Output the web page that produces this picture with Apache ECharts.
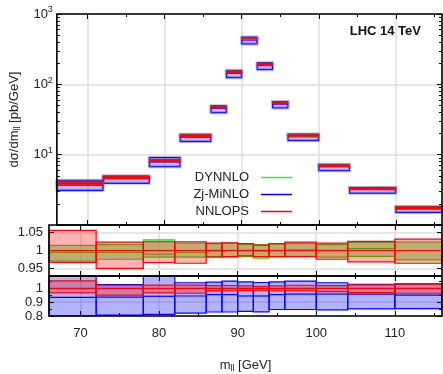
<!DOCTYPE html>
<html>
<head>
<meta charset="utf-8">
<script src="https://cdn.jsdelivr.net/npm/echarts@6/dist/echarts.min.js"></script>
<style>
  html,body{margin:0;padding:0;background:#fff}
  #c{width:443px;height:374px}
</style>
</head>
<body>
<div id="c"></div>
<script>
// ---------- 数据 ----------
// m_ll bins (GeV)
const binLo = [66, 72, 78, 82, 86, 88, 90, 92, 94, 96, 100, 104, 110];
const binHi = [72, 78, 82, 86, 88, 90, 92, 94, 96, 100, 104, 110, 116];
// NNLOPS central value, pb/GeV
const nnlops = [3.93, 4.85, 8.3, 18.7, 47.6, 150, 450, 195, 54.5, 18.7, 7.0, 3.32, 1.77];
// NNLOPS band / NNLOPS central
const redLo = [0.967, 0.951, 0.967, 0.965, 0.982, 0.983, 0.985, 0.983, 0.983, 0.983, 0.976, 0.969, 0.965];
const redHi = [1.055, 1.023, 1.024, 1.024, 1.020, 1.021, 1.019, 1.015, 1.019, 1.023, 1.020, 1.025, 1.031];
// DYNNLO / NNLOPS central
const grnLo = [0.971, 0.976, 0.982, 0.982, 0.983, 0.982, 0.983, 0.979, 0.983, 0.984, 0.982, 0.984, 0.974];
const grnHi = [1.014, 1.016, 1.029, 1.020, 1.019, 1.020, 1.017, 1.016, 1.018, 1.019, 1.016, 1.022, 1.023];
const grnC  = [0.995, 0.995, 0.990, 0.995, 1.000, 1.000, 1.000, 0.998, 1.000, 1.002, 1.000, 1.005, 1.000];
// Zj-MiNLO / NNLOPS central
const bluLo = [0.790, 0.806, 0.812, 0.821, 0.829, 0.829, 0.833, 0.830, 0.847, 0.847, 0.845, 0.851, 0.853];
const bluHi = [1.100, 1.027, 1.100, 1.041, 1.045, 1.053, 1.047, 1.043, 1.047, 1.053, 1.041, 1.029, 1.033];
const bluC  = [0.935, 0.937, 0.943, 0.945, 0.955, 0.955, 0.945, 0.945, 0.955, 0.959, 0.959, 0.959, 0.951];

const xMajor = [70, 80, 90, 100, 110];
const xMinor = [75, 85, 95, 105, 115];
const logMinor = [2,3,4,5,6,7,8,9,20,30,40,50,60,70,80,90,200,300,400,500,600,700,800,900];
const midTicks = [0.95, 1, 1.05];
const lowTicks = [0.8, 0.9, 1];
const lowMinor = [0.85, 0.95, 1.05];

// ---------- 帮助函数 ----------
const FONT = 'Liberation Sans';
const RED = '#ff0000', BLUE = '#0000ff', GREEN = '#33cc11';

function rows(scale, lo, hi, c){
  return binLo.map((x, i) => [x, binHi[i], scale[i]*lo[i], scale[i]*hi[i], scale[i]*c[i]]);
}
const one = binLo.map(() => 1);

function boxRender(fill, stroke, lw, glow){
  return function(params, api){
    const cs = params.coordSys;
    const a = api.coord([api.value(0), api.value(3)]);
    const b = api.coord([api.value(1), api.value(2)]);
    const c = api.coord([api.value(0), api.value(4)]);
    const clip = {x: cs.x, y: cs.y, width: cs.width, height: cs.height};
    const r = echarts.graphic.clipRectByRect({x: a[0], y: a[1], width: b[0]-a[0], height: b[1]-a[1]}, clip);
    const kids = [];
    if (r && glow) kids.push({type:'rect', shape: r, style:{fill:'none', stroke: glow, lineWidth: 3}});
    if (r) kids.push({type:'rect', shape: r, style:{fill: fill, stroke: stroke, lineWidth: lw}});
    if (c[1] >= cs.y && c[1] <= cs.y + cs.height)
      kids.push({type:'line', shape:{x1: a[0], y1: c[1], x2: b[0], y2: c[1]}, style:{stroke: stroke, lineWidth: lw}});
    return {type:'group', children: kids};
  };
}
function band(name, g, data, fill, stroke, lw, glow){
  return {type:'custom', name: name, xAxisIndex: g*4, yAxisIndex: g*4, data: data,
    encode:{x:[0,1], y:[2,3,4]}, renderItem: boxRender(fill, stroke, lw, glow), silent: true};
}

// ---------- 坐标轴 ----------
const grids = [
  {left: 49, right: 1, top: 14,  height: 211},
  {left: 49, right: 1, top: 225, height: 51},
  {left: 49, right: 1, top: 276, height: 50}
].map(g => Object.assign(g, {show: true, borderColor: '#000', borderWidth: 1.6, backgroundColor: 'transparent', z: 10}));

const gridLine = {show: true, lineStyle: {color: '#dedede', width: 1.5}};
const tickStyle = {color: '#000', width: 1};

const xAxes = [];
for (let g = 0; g < 3; g++){
  const base = {type:'value', gridIndex: g, min: 66, max: 116, axisLine:{show:false}, axisLabel:{show:false}, splitLine:{show:false}};
  const main = Object.assign({}, base, {position:'bottom',
    axisTick:{show:true, inside:true, length:5, customValues: xMajor, lineStyle: tickStyle},
    splitLine: gridLine});
  if (g === 2){
    main.axisLabel = {show:true, customValues: xMajor, fontFamily: FONT, fontSize: 13, color:'#222', margin: 11};
    main.name = '{a|m}{s|ll}{a| [GeV]}';
    main.nameLocation = 'middle';
    main.nameGap = 41;
    main.nameTextStyle = {fontFamily: FONT, rich:{a:{fontFamily: FONT, fontSize:13, color:'#222'}, s:{fontFamily: FONT, fontSize:9, color:'#222', padding:[7,0,0,0]}}};
  }
  xAxes.push(main);
  xAxes.push(Object.assign({}, base, {position:'bottom', axisTick:{show:true, inside:true, length:3, customValues: xMinor, lineStyle: tickStyle}}));
  xAxes.push(Object.assign({}, base, {position:'top', axisTick:{show:true, inside:true, length:5, customValues: xMajor, lineStyle: tickStyle}}));
  xAxes.push(Object.assign({}, base, {position:'top', axisTick:{show:true, inside:true, length:3, customValues: xMinor, lineStyle: tickStyle}}));
}

const labelStyle = {fontFamily: FONT, fontSize: 13, color:'#222', margin: 6};
const yAxes = [];
// top: log
{
  const base = {type:'log', logBase:10, gridIndex:0, min:1, max:1000, axisLine:{show:false}, axisLabel:{show:false}, splitLine:{show:false}};
  yAxes.push(Object.assign({}, base, {position:'left',
    axisTick:{show:true, inside:true, length:5, lineStyle: tickStyle},
    splitLine: gridLine,
    axisLabel:{show:true, fontFamily: FONT, fontSize:13, color:'#222', margin:4,
      formatter: v => v < 5 ? '' : '{b|10}{s|' + Math.round(Math.log10(v)) + '}',
      rich:{b:{fontFamily: FONT, fontSize:13, color:'#222'}, s:{fontFamily: FONT, fontSize:9, color:'#222', padding:[0,0,8,0]}}},
    name:'{a|dσ/dm}{s|ll}{a| [pb/GeV]}', nameLocation:'middle', nameGap: 31,
    nameTextStyle:{fontFamily: FONT, rich:{a:{fontFamily: FONT, fontSize:13, color:'#222'}, s:{fontFamily: FONT, fontSize:9, color:'#222', padding:[7,0,0,0]}}}
  }));
  yAxes.push(Object.assign({}, base, {position:'left', axisTick:{show:true, inside:true, length:3, customValues: logMinor, lineStyle: tickStyle}}));
  yAxes.push(Object.assign({}, base, {position:'right', axisTick:{show:true, inside:true, length:5, lineStyle: tickStyle}}));
  yAxes.push(Object.assign({}, base, {position:'right', axisTick:{show:true, inside:true, length:3, customValues: logMinor, lineStyle: tickStyle}}));
}
// middle + bottom: ratio
[[1, 0.93, 1.07, midTicks, []], [2, 0.8, 1.09, lowTicks, lowMinor]].forEach(([g, mn, mx, maj, mnr]) => {
  const base = {type:'value', gridIndex:g, min:mn, max:mx, axisLine:{show:false}, axisLabel:{show:false}, splitLine:{show:false}};
  yAxes.push(Object.assign({}, base, {position:'left',
    axisTick:{show:true, inside:true, length:5, customValues: maj, lineStyle: tickStyle},
    splitLine: gridLine,
    axisLabel: Object.assign({show:true, customValues: maj}, labelStyle)}));
  yAxes.push(Object.assign({}, base, {position:'left', axisTick:{show: mnr.length > 0, inside:true, length:3, customValues: mnr.length ? mnr : [mx], lineStyle: tickStyle}}));
  yAxes.push(Object.assign({}, base, {position:'right', axisTick:{show:true, inside:true, length:5, customValues: maj, lineStyle: tickStyle}}));
  yAxes.push(Object.assign({}, base, {position:'right', axisTick:{show: mnr.length > 0, inside:true, length:3, customValues: mnr.length ? mnr : [mx], lineStyle: tickStyle}}));
});

// ---------- 系列 ----------
const series = [
  // top panel
  band('Zj-MiNLO', 0, rows(nnlops, bluLo, bluHi, bluC), 'rgba(0,0,255,0.28)', BLUE, 1, 'rgba(70,70,255,0.35)'),
  band('DYNNLO',   0, rows(nnlops, grnLo, grnHi, grnC), 'rgba(60,200,0,0.3)', GREEN, 1),
  band('NNLOPS',   0, rows(nnlops, redLo, redHi, one), 'rgba(255,0,0,0.85)', RED, 1, 'rgba(255,60,60,0.3)'),
  // middle panel
  band('DYNNLO', 1, rows(one, grnLo, grnHi, grnC), 'rgba(83,231,73,0.5)', 'rgba(50,210,20,1)', 1.2),
  band('NNLOPS', 1, rows(one, redLo, redHi, one), 'rgba(255,0,0,0.3)', RED, 1.2),
  // bottom panel
  band('Zj-MiNLO', 2, rows(one, bluLo, bluHi, bluC), 'rgba(0,0,255,0.3)', BLUE, 1.2),
  band('NNLOPS',   2, rows(one, redLo, redHi, one), 'rgba(255,0,0,0.3)', RED, 1.2)
];

const chart = echarts.init(document.getElementById('c'), null, {renderer:'canvas'});
chart.setOption({
  animation: false,
  textStyle: {fontFamily: FONT},
  title: {text:'LHC 14 TeV', right: 17, top: 20, textStyle:{fontFamily: FONT, fontSize:13, fontWeight:'bold', color:'#111'}},
  legend: {orient:'vertical', align:'right', right: 146, top: 166, itemWidth: 31, itemHeight: 1.5, itemGap: 4,
    textStyle:{fontFamily: FONT, fontSize:13, color:'#222', padding:[0,7,0,0]},
    selectedMode: false,
    data:[
      {name:'DYNNLO', icon:'rect', itemStyle:{color:'#44e044'}},
      {name:'Zj-MiNLO', icon:'rect', itemStyle:{color: BLUE}},
      {name:'NNLOPS', icon:'rect', itemStyle:{color: RED}}
    ]},
  grid: grids,
  xAxis: xAxes,
  yAxis: yAxes,
  series: series
});
</script>
</body>
</html>
